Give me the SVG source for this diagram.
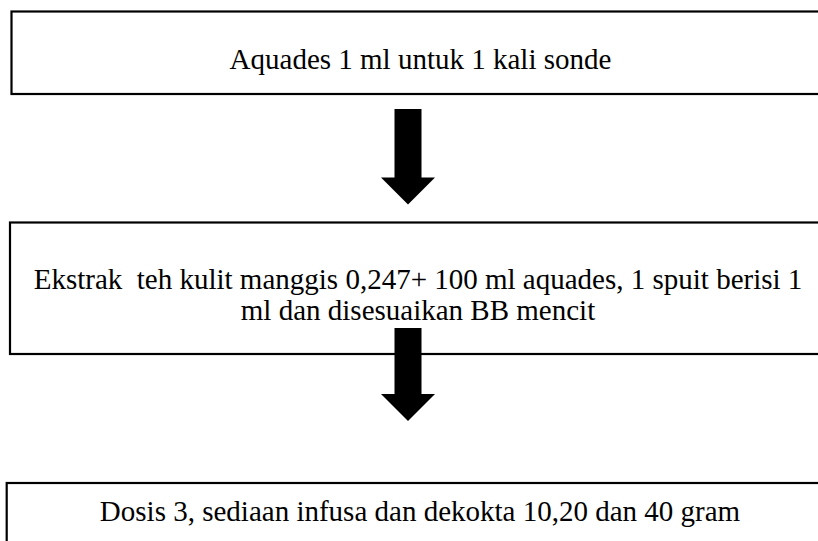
<svg xmlns="http://www.w3.org/2000/svg" width="818" height="541" viewBox="0 0 818 541">
<style>
.box{fill:#fff;stroke:#000;stroke-width:2.2}
.t{font-family:"Liberation Serif","Times New Roman",serif;font-size:29px;fill:#000;text-anchor:middle;white-space:pre}
.arr{fill:#000}
</style>
<rect width="818" height="541" fill="#fff"/>
<g id="node1">
<rect class="box" x="11.5" y="11.5" width="830" height="82.5"/>
<text class="t" x="420.5" y="69">Aquades 1 ml untuk 1 kali sonde</text>
</g>
<g id="node2">
<rect class="box" x="10" y="222.5" width="830" height="131.5"/>
<text class="t" x="418" y="289" xml:space="preserve">Ekstrak  teh kulit manggis 0,247+ 100 ml aquades, 1 spuit berisi 1</text>
<text class="t" x="418" y="320">ml dan disesuaikan BB mencit</text>
</g>
<g id="node3">
<rect class="box" x="6.7" y="483" width="830" height="80"/>
<text class="t" x="420" y="521">Dosis 3, sediaan infusa dan dekokta 10,20 dan 40 gram</text>
</g>
<g id="connectors">
<polygon class="arr" points="394.5,109 421.5,109 421.5,177.5 435,177.5 408,204.5 381,177.5 394.5,177.5"/>
<polygon class="arr" points="394.5,328 421.5,328 421.5,394 435,394 408,421 381,394 394.5,394"/>
</g>
</svg>
